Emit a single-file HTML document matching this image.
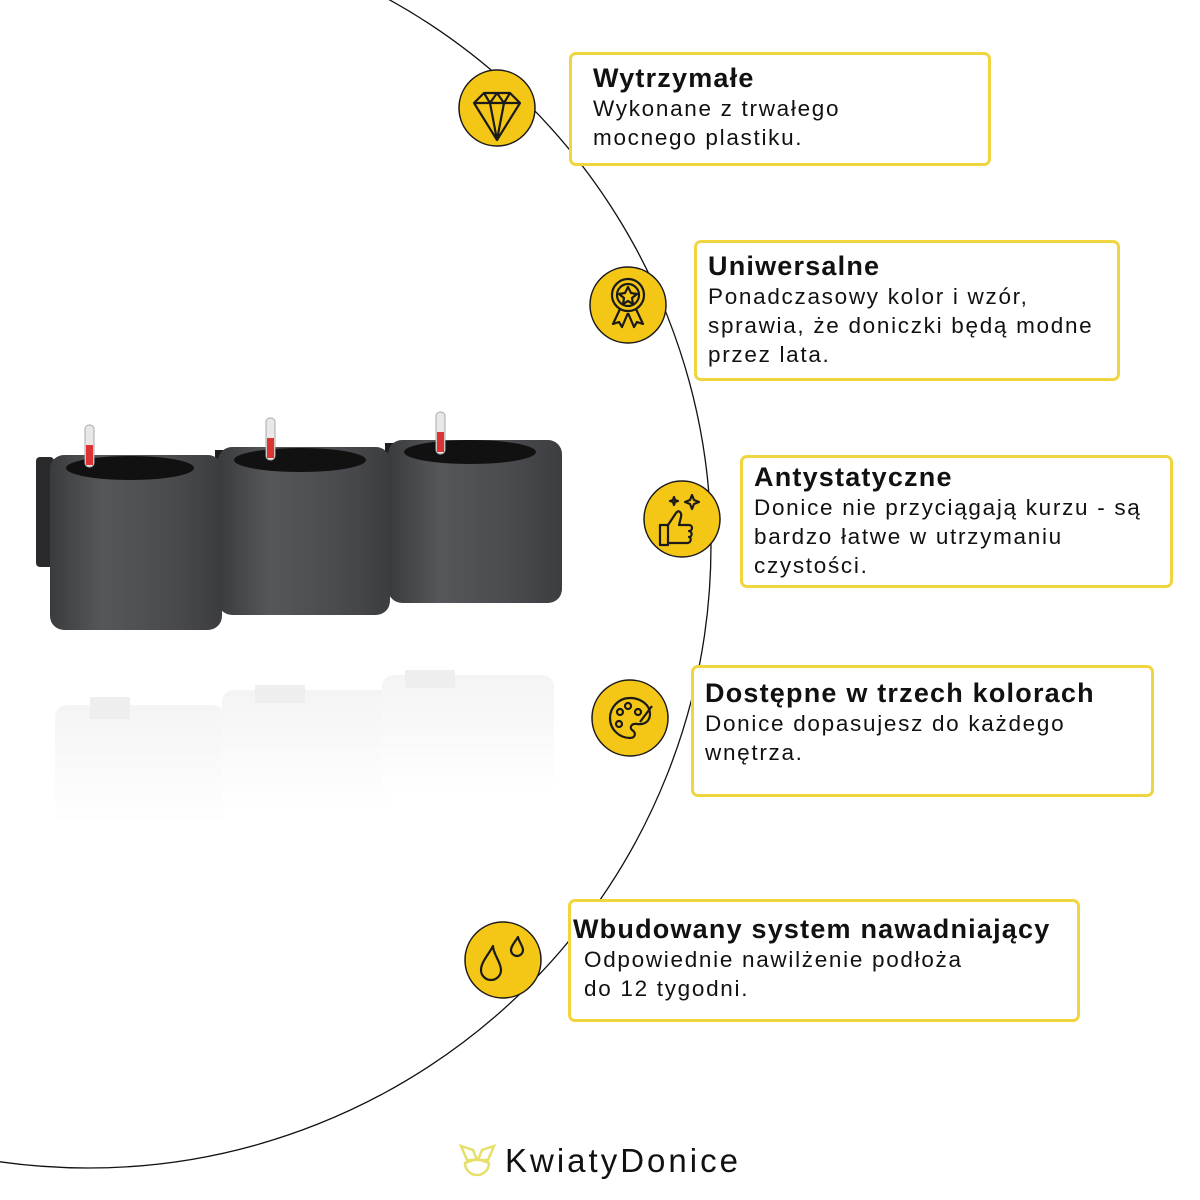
<!DOCTYPE html>
<html><head><meta charset="utf-8"><style>
body{margin:0;width:1200px;height:1200px;background:#fff;position:relative;overflow:hidden;font-family:"Liberation Sans",sans-serif;}
.box{position:absolute;border:3px solid #f0d540;border-radius:7px;background:#fff;box-sizing:border-box;color:#111;white-space:nowrap;}
.box b{display:block;font-size:27px;font-weight:bold;letter-spacing:1.2px;line-height:32px;}
.box span{display:block;font-size:22.5px;line-height:29px;letter-spacing:1.7px;}
</style></head><body>
<svg width="1200" height="1200" style="position:absolute;left:0;top:0">
<defs><linearGradient id="g" x1="0" x2="1"><stop offset="0" stop-color="#3a3b3d"/><stop offset="0.3" stop-color="#55575a"/><stop offset="0.7" stop-color="#4a4b4e"/><stop offset="1" stop-color="#3c3d40"/></linearGradient>
<linearGradient id="r" x1="0" y1="0" x2="0" y2="1"><stop offset="0" stop-color="#f4f4f4"/><stop offset="1" stop-color="#fff"/></linearGradient></defs>
<circle cx="88" cy="545" r="623" fill="none" stroke="#111" stroke-width="1.3"/>
<g fill="url(#r)"><rect x="55" y="705" width="170" height="120" rx="12"/><rect x="222" y="690" width="170" height="120" rx="12"/><rect x="382" y="675" width="172" height="120" rx="12"/>
<rect x="90" y="697" width="40" height="22" fill="#eee"/><rect x="255" y="685" width="50" height="18" fill="#eee"/><rect x="405" y="670" width="50" height="18" fill="#eee"/></g>
<rect x="36" y="457" width="18" height="110" rx="4" fill="#2a2a2c"/>
<rect x="215" y="450" width="12" height="105" fill="#1e1e20"/>
<rect x="385" y="443" width="12" height="100" fill="#1e1e20"/>
<rect x="50" y="455" width="172" height="175" rx="14" fill="url(#g)"/>
<rect x="218" y="447" width="172" height="168" rx="14" fill="url(#g)"/>
<rect x="388" y="440" width="174" height="163" rx="14" fill="url(#g)"/>
<ellipse cx="130" cy="468" rx="64" ry="12" fill="#111"/><ellipse cx="300" cy="460" rx="66" ry="12" fill="#111"/><ellipse cx="470" cy="452" rx="66" ry="12" fill="#111"/>
<g fill="#e8e8e8" stroke="#aaa"><rect x="85" y="425" width="9" height="42" rx="4"/><rect x="266" y="418" width="9" height="42" rx="4"/><rect x="436" y="412" width="9" height="42" rx="4"/></g>
<g fill="#d33"><rect x="86" y="445" width="7" height="20"/><rect x="267" y="438" width="7" height="20"/><rect x="437" y="432" width="7" height="20"/></g>
<g fill="#f4c616" stroke="#1a1a1a" stroke-width="1.5">
<circle cx="497" cy="108" r="38"/><circle cx="628" cy="305" r="38"/><circle cx="682" cy="519" r="38"/><circle cx="630" cy="718" r="38"/><circle cx="503" cy="960" r="38"/></g>
<g fill="none" stroke="#1a1a1a" stroke-width="2.2" stroke-linejoin="round">
<path d="M474 103 L484 93 H510 L520 103 L497 140 Z M474 103 H520 M484 93 L490 103 L497 140 L504 103 L510 93 M490 103 L497 93 L504 103"/>
<circle cx="628" cy="295" r="16"/><circle cx="628" cy="295" r="11"/><path d="M628 287 l3 6 6 1 -5 4 1 6 -5 -3 -5 3 1 -6 -5 -4 6 -1z"/><path d="M620 309 l-7 15 6 -2 3 5 6 -14 M636 309 l7 15 -6 -2 -3 5 -6 -14"/>
<path d="M660 525 h8 v20 h-8z M668 525 l8 -12 c3 -4 6 0 5 4 l-2 8 h10 c4 0 4 6 0 6 c4 1 3 6 0 6 c3 1 2 6 -2 6 h-19"/><path d="M690 500 l2 -5 2 5 5 2 -5 2 -2 5 -2 -5 -5 -2z M673 500 l1 -3 1 3 3 1 -3 1 -1 3 -1 -3 -3 -1z"/>
<path d="M630 698 c-12 0 -20 10 -20 20 c0 12 10 20 20 20 c6 0 6 -6 2 -8 c-3 -3 0 -7 5 -6 c8 1 13 -3 13 -10 c0 -9 -9 -16 -20 -16z"/><circle cx="620" cy="712" r="3"/><circle cx="628" cy="706" r="3"/><circle cx="619" cy="724" r="3"/><circle cx="638" cy="712" r="3"/><path d="M640 722 l12 -16"/>
<path d="M493 946 c-4 8 -12 16 -12 24 a10 10 0 0 0 20 0 c0 -8 -8 -16 -8 -24z"/><path d="M518 937 c-3 5 -7 9 -7 13 a6 6 0 0 0 12 0 c0 -4 -4 -8 -5 -13z"/>
</g>
<g fill="none" stroke="#e6df6a" stroke-width="2.5"><path d="M461 1146 l12 4 4 10 -10 0z M494 1146 l-12 4 -4 10 10 0z"/><path d="M465 1163 a12 12 0 0 0 24 0 l-12 -4z"/></g>
<text x="505" y="1172" font-family="Liberation Sans" font-size="33" fill="#111" letter-spacing="3">KwiatyDonice</text>
</svg>
<div class="box" style="left:569px;top:52px;width:422px;height:114px;padding:7px 0 0 21px"><b>Wytrzymałe</b><span>Wykonane z trwałego<br>mocnego plastiku.</span></div>
<div class="box" style="left:694px;top:240px;width:426px;height:141px;padding:7px 0 0 11px"><b>Uniwersalne</b><span>Ponadczasowy kolor i wzór,<br>sprawia, że doniczki będą modne<br>przez lata.</span></div>
<div class="box" style="left:740px;top:455px;width:433px;height:133px;padding:3px 0 0 11px"><b>Antystatyczne</b><span>Donice nie przyciągają kurzu - są<br>bardzo łatwe w utrzymaniu<br>czystości.</span></div>
<div class="box" style="left:691px;top:665px;width:463px;height:132px;padding:9px 0 0 11px"><b>Dostępne w trzech kolorach</b><span>Donice dopasujesz do każdego<br>wnętrza.</span></div>
<div class="box" style="left:568px;top:899px;width:512px;height:123px;padding:11px 0 0 2px"><b>Wbudowany system nawadniający</b><span style="padding-left:11px">Odpowiednie nawilżenie podłoża<br>do 12 tygodni.</span></div>
</body></html>
